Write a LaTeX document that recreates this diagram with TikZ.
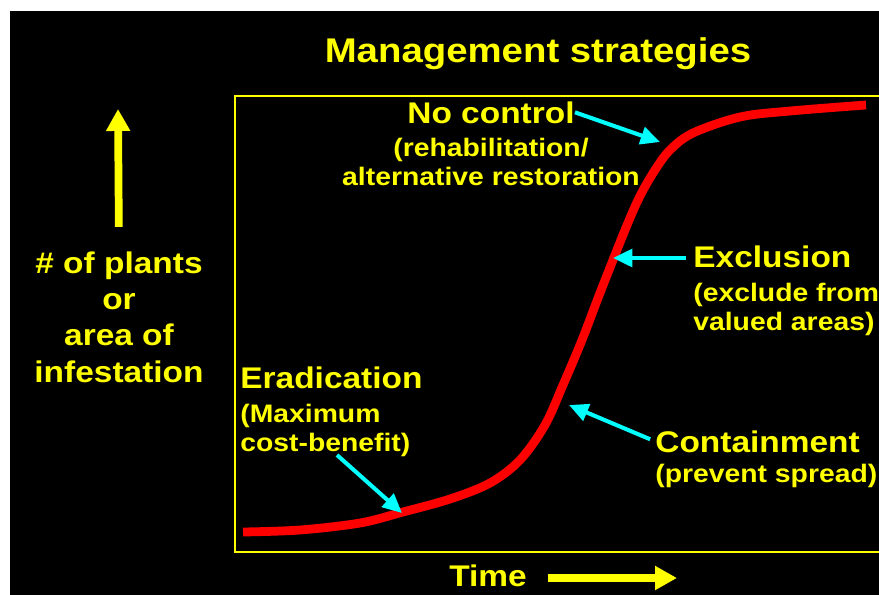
\documentclass[tikz,border=0pt]{standalone}
\usepackage{fontspec}
\setmainfont{Liberation Sans}[FakeStretch=1.12]
\usetikzlibrary{arrows.meta}

\definecolor{slideyellow}{RGB}{255,255,0}
\definecolor{slidecyan}{RGB}{0,255,255}
\definecolor{slidered}{RGB}{255,0,0}

\tikzset{
  title/.style={font=\fontsize{19.5}{22}\selectfont\bfseries, text=slideyellow, inner sep=0pt},
  head/.style={font=\fontsize{17}{20.6}\selectfont\bfseries, text=slideyellow, inner sep=0pt},
  sub/.style={font=\fontsize{14.4}{16}\selectfont\bfseries, text=slideyellow, inner sep=0pt},
  pointer/.style={draw=slidecyan, line width=2.3pt, -{Triangle[length=11pt,width=10pt]}},
  bigarrow/.style={draw=slideyellow, line width=4.4pt, -{Triangle[length=12.5pt,width=13pt]}},
  growth/.style={draw=slidered, line width=5pt},
  frame/.style={draw=slideyellow, line width=1.1pt}
}

\begin{document}
\begin{tikzpicture}[x=0.02cm, y=-0.02cm]
\useasboundingbox (0,0) rectangle (879,595);
\fill[black] (10,11) rectangle (879,595);
\draw[frame] (879,96) -| (235,552) -- (879,552);

% growth curve
\draw[growth] plot[smooth, tension=0.55] coordinates {
  (243,532) (300,530) (360,523) (403,512) (450,499) (490,483) (520,460)
  (545,425) (563,385) (582,340) (600,293) (625,230) (640,196) (655,170)
  (670,150) (693,133) (740,117) (790,111) (866,105)};

\coordinate (eraTail) at (337,455);
\coordinate (eraTip) at (402,513);
\coordinate (conTip) at (569,405);
\coordinate (excTip) at (613,258);
\coordinate (nocTip) at (660,142);
\coordinate (yTip) at (118,109);
\coordinate (tTip) at (677,578);

\node[title, anchor=base] (heading) at (538,62) {Management strategies};

% axes (base of a multi-line node = last line)
\node[head, anchor=base, align=center] (yaxis) at (119,382) {\# of plants\\or\\area of\\infestation};
\draw[bigarrow, shorten <=14pt] (yaxis.north) -- (yTip);
\node[head, anchor=base west] (time) at (449,586) {Time};
\draw[bigarrow, shorten <=12pt] (time.east |- tTip) -- (tTip);

% strategies
\node[head, anchor=base] (noctl) at (491,123) {No control};
\node[sub, anchor=base, align=center] (noctlsub) at (491,185) {(rehabilitation/\\alternative restoration};
\draw[pointer] (noctl.east) -- (nocTip);

\node[head, anchor=base west] (excl) at (693,267) {Exclusion};
\node[sub, anchor=base west, align=left] (exclsub) at (693,330) {(exclude from\\valued areas)};
\draw[pointer, shorten <=4pt] (excl.west |- excTip) -- (excTip);

\node[head, anchor=base west] (contain) at (655,452) {Containment};
\node[sub, anchor=base west] (containsub) at (655,482) {(prevent spread)};
\draw[pointer, shorten <=3pt] (contain.west) -- (conTip);

\node[head, anchor=base west] (erad) at (240,388) {Eradication};
\node[sub, anchor=base west, align=left] (eradsub) at (240,451) {(Maximum\\cost-benefit)};
\draw[pointer] (eraTail) -- (eraTip);
\end{tikzpicture}
\end{document}
